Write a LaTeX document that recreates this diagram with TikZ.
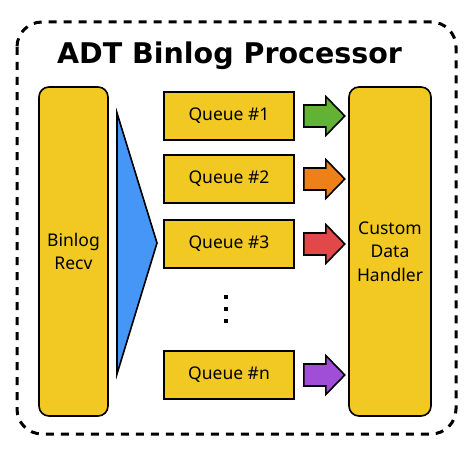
\documentclass[tikz,border=0pt]{standalone}
\usepackage{fontspec}
\setmainfont{Noto Sans}
\newfontfamily\titlefont{DejaVu Sans}
\usetikzlibrary{positioning}

\definecolor{gold}{HTML}{F1C922}
\definecolor{recvblue}{HTML}{4596F7}
\definecolor{qgreen}{HTML}{62B335}
\definecolor{qorange}{HTML}{EE801A}
\definecolor{qred}{HTML}{E2474A}
\definecolor{qpurple}{HTML}{A04ED8}

\tikzset{
  pillar/.style={draw, line width=1.6pt, fill=gold, rounded corners=10pt,
    minimum height=329pt, align=center, font=\fontsize{17.5}{23.5}\selectfont},
  queue/.style={draw, line width=1.6pt, fill=gold, minimum width=130pt,
    minimum height=48pt, font=\fontsize{17.5}{20}\selectfont},
  flow/.style={draw, line width=1.6pt},
}

\begin{document}
\begin{tikzpicture}[x=1pt,y=-1pt]
        \useasboundingbox (0,0) rectangle (474,460);
        \draw[line width=3pt, dash pattern=on 8pt off 7pt, rounded corners=25pt] (17,22) rectangle (456,434);
        \node[anchor=base, font=\titlefont\bfseries\fontsize{28.5}{30}\selectfont] (title) at (229.5,64) {ADT Binlog Processor};
        \node[pillar, minimum width=69pt] (recv) at (73.5,251.5) {Binlog\\Recv};
        \node[pillar, minimum width=82pt] (handler) at (390,251.5) {Custom\\Data\\Handler};
        \draw[flow, fill=recvblue] (117,113) -- (157,243) -- (117,374) -- cycle;
        \node[queue] (q1) at (229,116) {Queue \#1};
        \node[queue] (q2) at (229,179) {Queue \#2};
        \node[queue] (q3) at (229,244) {Queue \#3};
        \node[queue] (qn) at (229,375) {Queue \#n};
        \node[minimum width=4pt, minimum height=28pt] (dots) at (225.5,309) {};
        \foreach \y in {-12,0,12}
            \fill ([shift={(-2,\y-2)}]dots.center) rectangle ++(4,4);
        \foreach \q/\c in {q1/qgreen, q2/qorange, q3/qred, qn/qpurple}
            \draw[flow, fill=\c] ([xshift=9]\q.east) ++(0,-11) -- ++(22,0) -- ++(0,-8.5)
                -- ++(19,19.5) -- ++(-19,19.5) -- ++(0,-8.5) -- ++(-22,0) -- cycle;
    \end{tikzpicture}
\end{document}
